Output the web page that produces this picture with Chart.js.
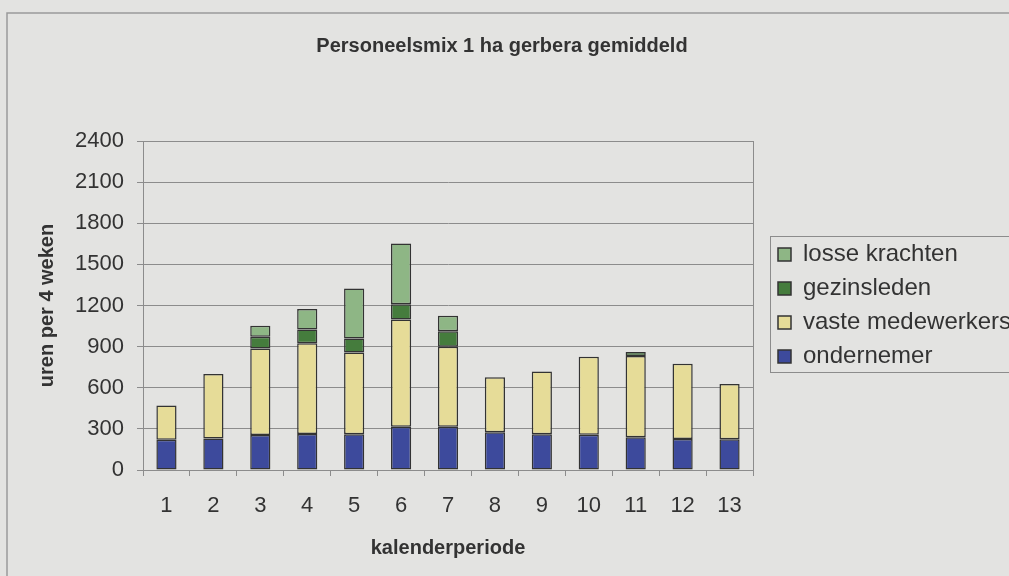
<!DOCTYPE html>
<html>
<head>
<meta charset="utf-8">
<script src="https://cdn.jsdelivr.net/npm/chart.js@4"></script>
<style>
	html, body { margin: 0; padding: 0; background: #e3e3e1; overflow: hidden; }
	#wrap { width: 1009px; height: 576px; }
</style>
</head>
<body>
<div id="wrap"><canvas id="personeelsmix"></canvas></div>
<script>
const perioden = ['1', '2', '3', '4', '5', '6', '7', '8', '9', '10', '11', '12', '13'];
const ondernemer = [220, 230, 255, 262, 260, 316, 316, 275, 260, 258, 238, 226, 224];
const vasteMedewerkers = [250, 470, 632, 662, 598, 782, 583, 401, 459, 568, 593, 549, 403];
const gezinsleden = [0, 0, 85, 101, 102, 112, 114, 0, 0, 0, 29, 0, 0];
const losseKrachten = [0, 0, 80, 149, 364, 442, 112, 0, 0, 0, 0, 0, 0];
const yTicks = [0, 300, 600, 900, 1200, 1500, 1800, 2100, 2400];

const lettertype = "'Liberation Sans', Arial, sans-serif";
const lijnKleur = '#8c8c8c';
const tekstKleur = '#333333';

// achtergrond, kaders rond grafiek en legenda
const kaders = {
	id: 'kaders',
	beforeDraw(chart) {
		const c = chart.ctx;
		c.save();
		c.fillStyle = '#e3e3e1';
		c.fillRect(0, 0, chart.width, chart.height);
		c.strokeStyle = '#9a9a9a';
		c.lineWidth = 1.5;
		c.beginPath();
		c.moveTo(7, chart.height + 5);
		c.lineTo(7, 13);
		c.lineTo(chart.width + 5, 13);
		c.stroke();
		c.restore();
	},
	afterLayout(chart) {
		if (chart.legend) {
			chart.legend.left += 15;
			chart.legend.right += 15;
		}
	},
	beforeDatasetsDraw(chart) {
		const a = chart.chartArea;
		const c = chart.ctx;
		c.save();
		c.strokeStyle = lijnKleur;
		c.lineWidth = 1;
		c.strokeRect(a.left + 0.5, a.top + 0.5, a.right - a.left, a.bottom - a.top);
		c.restore();
	},
	afterDraw(chart) {
		const boxes = chart.legend && chart.legend.legendHitBoxes;
		if (!boxes || !boxes.length) return;
		const eerste = boxes[0];
		const laatste = boxes[boxes.length - 1];
		const c = chart.ctx;
		c.save();
		c.strokeStyle = lijnKleur;
		c.lineWidth = 1;
		const x = Math.round(eerste.left - 8) + 0.5;
		const y = Math.round(eerste.top - 7) + 0.5;
		c.strokeRect(x, y, chart.width + 20 - x, laatste.top + laatste.height + 4 - y);
		c.restore();
	}
};

document.addEventListener('DOMContentLoaded', function () {
	const ctx = document.getElementById('personeelsmix').getContext('2d');

	const reeks = (label, data, kleur) => ({
		label: label,
		data: data,
		backgroundColor: kleur,
		borderColor: '#333333',
		borderWidth: 1.5,
		borderSkipped: false,
		barPercentage: 0.43,
		categoryPercentage: 1.0,
	});

	const data = {
		labels: perioden,
		datasets: [
			reeks('ondernemer', ondernemer, '#3d4a9c'),
			reeks('vaste medewerkers', vasteMedewerkers, '#e6dc98'),
			reeks('gezinsleden', gezinsleden, '#457c3d'),
			reeks('losse krachten', losseKrachten, '#8eb685'),
		],
	};

	const config = {
		type: 'bar',
		data: data,
		options: {
			responsive: true,
			maintainAspectRatio: false,
			animation: false,
			layout: { padding: { left: 0, right: 5, top: 0, bottom: 0 } },
			plugins: {
				title: {
					display: true,
					text: 'Personeelsmix 1 ha gerbera gemiddeld',
					color: tekstKleur,
					font: { family: lettertype, size: 20, weight: 'bold' },
					padding: { top: 34, bottom: 83 },
				},
				legend: {
					display: true,
					position: 'right',
					fullSize: false,
					reverse: true,
					labels: {
						color: tekstKleur,
						font: { family: lettertype, size: 24 },
						boxWidth: 13,
						boxHeight: 13,
						padding: 10,
					},
				},
				tooltip: { enabled: false },
			},
			scales: {
				x: {
					stacked: true,
					afterFit: s => { s.height = 106; },
					grid: { display: true, drawOnChartArea: false, drawTicks: true, tickLength: 6, color: lijnKleur },
					border: { display: true, color: lijnKleur },
					ticks: { color: tekstKleur, font: { family: lettertype, size: 22 }, padding: 17, maxRotation: 0 },
					title: {
						display: true,
						text: 'kalenderperiode',
						color: tekstKleur,
						font: { family: lettertype, size: 20, weight: 'bold' },
						padding: { top: 0, bottom: 16 },
					},
				},
				y: {
					stacked: true,
					min: 0,
					max: 2400,
					afterFit: s => { s.width = 143; },
					afterBuildTicks: s => { s.ticks = yTicks.map(v => ({ value: v })); },
					grid: { color: lijnKleur, tickLength: 6, drawTicks: true },
					border: { display: true, color: lijnKleur },
					ticks: {
						color: tekstKleur,
						font: { family: lettertype, size: 22 },
						padding: 13,
						callback: v => String(v),
					},
					title: {
						display: true,
						text: 'uren per 4 weken',
						color: tekstKleur,
						font: { family: lettertype, size: 20, weight: 'bold' },
						padding: { top: 35, bottom: 0 },
					},
				},
			},
		},
		plugins: [kaders],
	};

	new Chart(ctx, config);
});
</script>
</body>
</html>
